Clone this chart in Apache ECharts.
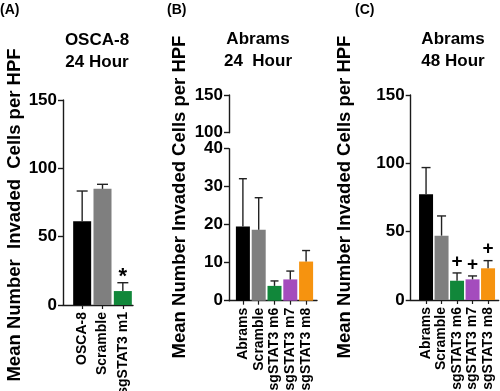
<!DOCTYPE html>
<html><head><meta charset="utf-8">
<script src="https://cdn.jsdelivr.net/npm/echarts@6/dist/echarts.min.js"></script>
<style>html,body{margin:0;padding:0;background:#fff}#c{width:500px;height:391px}</style>
</head><body><div id="c"></div>
<script>
// ---- data ----
const catsA = ['OSCA-8', 'Scramble', 'sgSTAT3 m1'];
const meanA = [61.3, 85.0, 10.2];
const upperA = [83.4, 88.3, 16.3];
const markA = ['', '', '*'];
const colorsA = ['#000000', '#7f7f7f', '#11873a'];

const catsB = ['Abrams', 'Scramble', 'sgSTAT3 m6', 'sgSTAT3 m7', 'sgSTAT3 m8'];
const meanB = [19.5, 18.7, 3.9, 5.6, 10.3];
const upperB = [32.1, 27.1, 5.2, 7.8, 13.2];
const markB = ['', '', '', '', ''];

const catsC = ['Abrams', 'Scramble', 'sgSTAT3 m6', 'sgSTAT3 m7', 'sgSTAT3 m8'];
const meanC = [77.4, 47.1, 14.1, 15.1, 23.2];
const upperC = [96.9, 61.5, 19.8, 17.6, 28.8];
const markC = ['', '', '+', '+', '+'];
const colorsBC = ['#000000', '#7f7f7f', '#11873a', '#a44cbd', '#f6930f'];

const titleA = 'OSCA-8\n24 Hour';
const titleB = 'Abrams\n24  Hour';
const titleC = 'Abrams\n48 Hour';
const yTitleA = 'Mean Number  Invaded  Cells per HPF';
const yTitleB = 'Mean Number Invaded Cells per HPF';
const yTitleC = 'Mean Number Invaded Cells per HPF';
const yRangeA = [0, 150, 50];
const yRangeBLow = [0, 40, 10];
const yRangeBHigh = [100, 150, 50];
const yRangeC = [0, 150, 50];

// ---- styling ----
const FONT = 'Liberation Sans, Arial, Helvetica, sans-serif';
const AX = '#1a1a1a';
const chart = echarts.init(document.getElementById('c'), null, {renderer: 'canvas'});

function grid(l, w, t, h) {
  return {left: l, width: w, top: t, height: h, containLabel: false, outerBoundsMode: 'none'};
}
function axisY(g, r, show) {
  return {
    type: 'value', gridIndex: g, min: r[0], max: r[1], interval: r[2], show: show,
    axisLine: {show: true, lineStyle: {color: AX, width: 1.4}},
    axisTick: {show: true, length: 5, lineStyle: {color: AX, width: 1.4}},
    axisLabel: {show: true, margin: 6, color: '#000', fontFamily: FONT, fontWeight: 'bold', fontSize: 17},
    splitLine: {show: false}
  };
}
function frameX(g, showLine) {
  return {
    type: 'value', gridIndex: g, min: 0, max: 1, show: showLine,
    axisLine: {show: true, onZero: false, lineStyle: {color: AX, width: 1.4}},
    axisTick: {show: false}, axisLabel: {show: false}, splitLine: {show: false}
  };
}
function catX(g, cats) {
  return {
    type: 'category', gridIndex: g, data: cats,
    axisLine: {show: false},
    axisTick: {show: true, alignWithLabel: true, length: 4, lineStyle: {color: AX, width: 1.2}},
    axisLabel: {rotate: 90, margin: 7, color: '#000', fontFamily: FONT, fontWeight: 'bold', fontSize: 14, interval: 0}
  };
}
function barSeries(xi, yi, means, colors, w) {
  return {
    type: 'bar', xAxisIndex: xi, yAxisIndex: yi, barWidth: w, silent: true,
    data: means.map((v, i) => ({value: v, itemStyle: {color: colors[i]}}))
  };
}
function errSeries(xi, yi, means, uppers, marks, capW, fs, dy) {
  return {
    type: 'custom', xAxisIndex: xi, yAxisIndex: yi, z: 5, silent: true,
    data: means.map((v, i) => [i, v, uppers[i]]),
    encode: {x: 0, y: [1, 2]},
    renderItem: function (params, api) {
      const i = api.value(0);
      const b = api.coord([i, api.value(1)]);
      const t = api.coord([i, api.value(2)]);
      const st = {stroke: '#222', lineWidth: 1.4};
      const ch = [
        {type: 'line', shape: {x1: b[0], y1: b[1], x2: t[0], y2: t[1]}, style: st},
        {type: 'line', shape: {x1: t[0] - capW / 2, y1: t[1], x2: t[0] + capW / 2, y2: t[1]}, style: st}
      ];
      const m = marks[params.dataIndex];
      if (m) {
        ch.push({type: 'text', x: t[0], y: t[1] + dy,
          style: {text: m, textAlign: 'center', textVerticalAlign: 'bottom', fill: '#000',
            font: 'bold ' + fs + 'px ' + FONT}});
      }
      return {type: 'group', children: ch};
    }
  };
}
function titleText(x, y, txt) {
  return {type: 'text', x: x, y: y, style: {text: txt, textAlign: 'center', textVerticalAlign: 'middle',
    fill: '#000', font: 'bold 17px ' + FONT, lineHeight: 22}};
}
function yTitle(x, y, txt) {
  return {type: 'text', x: x, y: y, rotation: Math.PI / 2,
    style: {text: txt, textAlign: 'center', textVerticalAlign: 'middle', fill: '#000', font: 'bold 18.5px ' + FONT}};
}
function panelLabel(x, txt) {
  return {type: 'text', x: x, y: 10, style: {text: txt, textAlign: 'left', textVerticalAlign: 'middle',
    fill: '#000', font: 'bold 14px ' + FONT}};
}

const option = {
  animation: false,
  backgroundColor: '#ffffff',
  grid: [
    grid(63, 70, 100, 205),        // 0 A frame
    grid(72, 61, 100, 205),        // 1 A bars
    grid(229, 88, 148.7, 152),     // 2 B lower frame
    grid(229, 88, 95, 37.7),       // 3 B upper frame
    grid(235, 79, 148.7, 152),     // 4 B bars
    grid(410.7, 88, 95, 205),      // 5 C frame
    grid(418.3, 77.5, 95, 205)     // 6 C bars
  ],
  xAxis: [
    frameX(0, true), catX(1, catsA),
    frameX(2, true), frameX(3, false), catX(4, catsB),
    frameX(5, true), catX(6, catsC)
  ],
  yAxis: [
    axisY(0, yRangeA, true), axisY(1, yRangeA, false),
    axisY(2, yRangeBLow, true), axisY(3, yRangeBHigh, true), axisY(4, yRangeBLow, false),
    axisY(5, yRangeC, true), axisY(6, yRangeC, false)
  ],
  series: [
    barSeries(1, 1, meanA, colorsA, 18),
    errSeries(1, 1, meanA, upperA, markA, 11, 22, 5),
    barSeries(4, 4, meanB, colorsBC, 14),
    errSeries(4, 4, meanB, upperB, markB, 8, 18, -2),
    barSeries(6, 6, meanC, colorsBC, 14),
    errSeries(6, 6, meanC, upperC, markC, 9, 19, -2)
  ],
  graphic: [
    panelLabel(0, '(A)'), panelLabel(167, '(B)'), panelLabel(355, '(C)'),
    titleText(97, 51, titleA), titleText(258, 50, titleB), titleText(453, 50, titleC),
    yTitle(15, 215, yTitleA), yTitle(180, 197, yTitleB), yTitle(345, 197, yTitleC)
  ]
};
chart.setOption(option);
</script>
</body></html>
